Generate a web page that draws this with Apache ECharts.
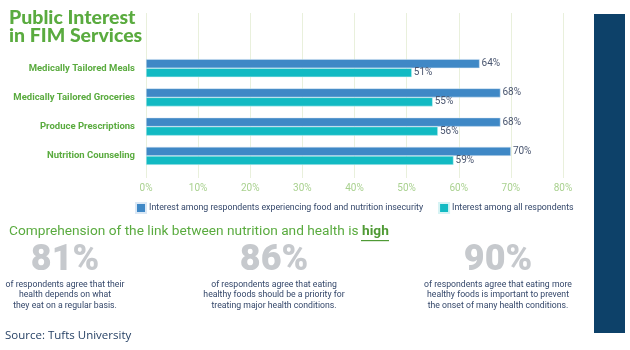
<!DOCTYPE html>
<html><head><meta charset="utf-8">
<script src="https://cdn.jsdelivr.net/npm/echarts@6/dist/echarts.min.js"></script>
<style>html,body{margin:0;padding:0;background:#fff}#c{width:630px;height:350px}</style>
</head><body><div id="c"></div>
<script>
var categories = ['Medically Tailored Meals','Medically Tailored Groceries','Produce Prescriptions','Nutrition Counseling'];
var insecureValues = [64, 68, 68, 70];
var allValues = [51, 55, 56, 59];
var seriesNames = ['Interest among respondents experiencing food and nutrition insecurity','Interest among all respondents'];
var statValues = ['81%','86%','90%'];
var statTexts = [
  'of respondents agree that their\nhealth depends on what\nthey eat on a regular basis.',
  'of respondents agree that eating\nhealthy foods should be a priority for\ntreating major health conditions.',
  'of respondents agree that eating more\nhealthy foods is important to prevent\nthe onset of many health conditions.'
];
var statCenters = [65, 274, 498];

var chart = echarts.init(document.getElementById('c'));
var green = '#5aab3f';
var navyText = '#34476a';
var graphics = [
  {type:'rect', shape:{x:594,y:14,width:31,height:319}, style:{fill:'#0d4169'}},
  {type:'text', left:9, top:8, style:{text:'Public Interest\nin FIM Services', font:'900 19.5px Lato, sans-serif', fill:green, lineHeight:18}},
  {type:'text', left:9, top:225, style:{
    text:'{n|Comprehension of the link between nutrition and health is }{h|high}',
    rich:{n:{font:'13.7px Roboto, sans-serif', fill:green}, h:{font:'bold 13.7px Roboto, sans-serif', fill:'#4f9a35'}}
  }},
  {type:'rect', shape:{x:361,y:240,width:28,height:1.2}, style:{fill:'#4f9a35'}},
  {type:'text', left:5, top:330, style:{text:'Source: Tufts University', font:'11.5px "Open Sans", sans-serif', fill:'#1e3a5f'}}
];
for (var i=0;i<statValues.length;i++){
  graphics.push({type:'text', x:statCenters[i], y:243, style:{text:statValues[i], font:'900 36px Roboto, sans-serif', fill:'#c6c9cd', align:'center', verticalAlign:'top'}});
  graphics.push({type:'text', x:statCenters[i], y:279, style:{text:statTexts[i], font:'8.7px Roboto, sans-serif', fill:navyText, align:'center', verticalAlign:'top', lineHeight:10.7}});
}

chart.setOption({
  animation:false,
  legend:{
    top:202, left:135, width:480, padding:0, itemWidth:10, itemHeight:10, itemGap:15,
    icon:'rect',
    textStyle:{fontSize:8.8, color:navyText, fontFamily:'Roboto, sans-serif', padding:[0,0,0,-2]},
    data:seriesNames
  },
  grid:[
    {left:146, width:417, top:13, height:165},
    {left:146, width:417, top:53.5, height:117}
  ],
  xAxis:[
    {gridIndex:0, type:'value', min:0, max:80, interval:10,
     axisLine:{show:false}, axisTick:{show:false},
     splitLine:{show:true, lineStyle:{color:'#e9f0dc', width:1}},
     axisLabel:{formatter:'{value}%', color:'#a9d18f', fontSize:10, margin:5, fontFamily:'Roboto, sans-serif'}},
    {gridIndex:1, type:'value', min:0, max:80, show:false, splitLine:{show:false}}
  ],
  yAxis:[
    {gridIndex:0, type:'value', show:false},
    {gridIndex:1, type:'category', data:categories, inverse:true,
     axisLine:{show:false}, axisTick:{show:false},
     axisLabel:{color:green, fontWeight:'bold', fontSize:9.5, margin:11, fontFamily:'Roboto, sans-serif'}}
  ],
  series:[
    {name:seriesNames[0], type:'bar', xAxisIndex:1, yAxisIndex:1, data:insecureValues,
     barWidth:9, barGap:'0%', itemStyle:{color:'#3f88c6', borderColor:'#dbe8f5', borderWidth:0.5},
     label:{show:true, position:'right', distance:2, formatter:'{c}%', color:'#4a5670', fontSize:10, fontFamily:'Roboto, sans-serif'}},
    {name:seriesNames[1], type:'bar', xAxisIndex:1, yAxisIndex:1, data:allValues,
     barWidth:9, itemStyle:{color:'#12bac3', borderColor:'#d5f3f4', borderWidth:0.5},
     label:{show:true, position:'right', distance:2, formatter:'{c}%', color:'#4a5670', fontSize:10, fontFamily:'Roboto, sans-serif'}}
  ],
  graphic:graphics
});
</script></body></html>
